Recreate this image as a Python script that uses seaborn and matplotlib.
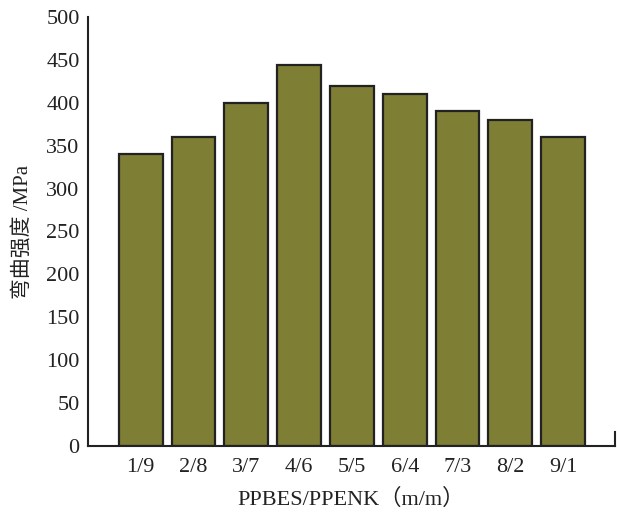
import matplotlib
matplotlib.use("Agg")
import matplotlib.pyplot as plt
import seaborn as sns
import pandas as pd

# PPBES/PPENK mass ratios and flexural strength (MPa)
ratios = ["1/9", "2/8", "3/7", "4/6", "5/5", "6/4", "7/3", "8/2", "9/1"]
strength = [340, 360, 400, 444, 420, 410, 390, 380, 360]
y_ticks = [0, 50, 100, 150, 200, 250, 300, 350, 400, 450, 500]

df = pd.DataFrame({"ratio": ratios, "strength": strength})

sns.set_style("white")
plt.rcParams["font.family"] = ["Liberation Serif", "Noto Sans CJK SC"]
plt.rcParams["axes.unicode_minus"] = False

fig = plt.figure(figsize=(6.17, 5.15), dpi=100)
ax = fig.add_axes([0.1426, 0.134, 0.854, 0.833])

sns.barplot(data=df, x="ratio", y="strength", ax=ax, color="#7e7e35",
            saturation=1, width=0.83, edgecolor="#222222", linewidth=1.6)

ax.set_xlim(-1, 8.98)
ax.set_ylim(0, 500)
ax.set_yticks(y_ticks)
ax.tick_params(axis="y", direction="in", length=7, width=1.5, labelsize=16,
               pad=6, colors="#222222")
ax.tick_params(axis="x", direction="in", length=3, width=1.0, labelsize=16,
               pad=9, colors="#222222")

ax.spines["top"].set_visible(False)
ax.spines["left"].set_linewidth(1.5)
ax.spines["bottom"].set_linewidth(1.5)
ax.spines["right"].set_linewidth(1.5)
ax.spines["right"].set_bounds(0, 16)
for s in ax.spines.values():
    s.set_color("#222222")

ax.set_xlabel("PPBES/PPENK（m/m）", fontsize=16, labelpad=8, color="#222222")
ax.set_ylabel("弯曲强度 /MPa", fontsize=15, labelpad=10, color="#222222")

fig.savefig("out.png", dpi=100)
